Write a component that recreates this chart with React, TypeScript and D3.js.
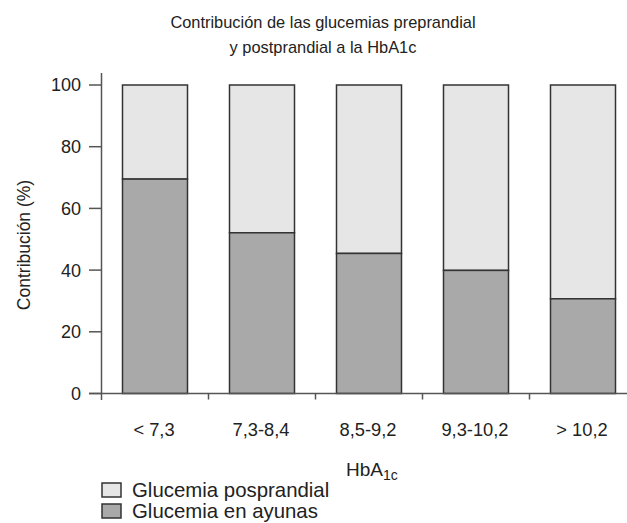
import React from "react";
import * as d3 from "d3";

const categories = ["< 7,3", "7,3-8,4", "8,5-9,2", "9,3-10,2", "> 10,2"];
const ayunas = [69.5, 52.1, 45.4, 39.9, 30.7];
const posprandial = [30.5, 47.9, 54.6, 60.1, 69.3];
const yTicks = [0, 20, 40, 60, 80, 100];
const titleLines = ["Contribución de las glucemias preprandial", "y postprandial a la HbA1c"];
const legendItems = ["Glucemia posprandial", "Glucemia en ayunas"];

const W = 627;
const H = 523;
const FONT = "'Liberation Sans', Arial, Helvetica, sans-serif";
const LIGHT = "#e6e6e6";
const DARK = "#a9a9a9";
const STROKE = "#333";
const AXIS = "#555";
const TEXT = "#222";

export default function App() {
  const x = d3
    .scaleBand<string>()
    .domain(categories)
    .range([101.5, 636.5])
    .paddingInner(0.3925)
    .paddingOuter(0.19625);
  const step = x.step();
  const y = d3.scaleLinear().domain([0, 100]).range([393.5, 85]);
  const y0 = y(0);

  return (
    <svg
      width={W}
      height={H}
      style={{ position: "absolute", left: 0, top: 0, background: "#fff" }}
      fontFamily={FONT}
    >
      <rect width={W} height={H} fill="#fff" />
      {titleLines.map((t, i) => (
        <text key={i} x={323} y={28 + i * 24.5} textAnchor="middle" fontSize={16.4} fill={TEXT}>
          {t}
        </text>
      ))}

      {/* bars */}
      {categories.map((c, i) => {
        const bx = x(c)!;
        const bw = x.bandwidth();
        return (
          <g key={c}>
            <rect
              x={bx}
              y={y(ayunas[i] + posprandial[i])}
              width={bw}
              height={y(ayunas[i]) - y(ayunas[i] + posprandial[i])}
              fill={LIGHT}
              stroke={STROKE}
              strokeWidth={1.5}
            />
            <rect
              x={bx}
              y={y(ayunas[i])}
              width={bw}
              height={y0 - y(ayunas[i])}
              fill={DARK}
              stroke={STROKE}
              strokeWidth={1.5}
            />
          </g>
        );
      })}

      {/* y axis */}
      <line x1={101.5} x2={101.5} y1={73} y2={400} stroke={AXIS} strokeWidth={1.5} />
      {yTicks.map((t) => (
        <g key={t}>
          <line x1={89} x2={101.5} y1={y(t)} y2={y(t)} stroke={AXIS} strokeWidth={1.5} />
          <text x={81} y={y(t)} dy="0.36em" textAnchor="end" fontSize={18} fill={TEXT}>
            {t}
          </text>
        </g>
      ))}

      {/* x axis */}
      <line x1={89} x2={627} y1={y0} y2={y0} stroke={AXIS} strokeWidth={1.5} />
      {categories.map((c, i) => (
        <g key={c}>
          {i > 0 && (
            <line
              x1={x(c)! - (step - x.bandwidth()) / 2}
              x2={x(c)! - (step - x.bandwidth()) / 2}
              y1={y0}
              y2={y0 + 6}
              stroke={AXIS}
              strokeWidth={1.5}
            />
          )}
          <text x={x(c)! + x.bandwidth() / 2 - 1} y={436} textAnchor="middle" fontSize={18.3} fill={TEXT}>
            {c}
          </text>
        </g>
      ))}

      {/* axis titles */}
      <text x={346} y={476} fontSize={19} fill={TEXT}>
        HbA
        <tspan fontSize={14} dy={4}>1c</tspan>
      </text>
      <text
        transform={`translate(30, 245) rotate(-90)`}
        textAnchor="middle"
        fontSize={17.5}
        fill={TEXT}
      >
        Contribución (%)
      </text>

      {/* legend */}
      {legendItems.map((l, i) => (
        <g key={l}>
          <rect
            x={102}
            y={483 + i * 21}
            width={19}
            height={14}
            fill={i === 0 ? LIGHT : DARK}
            stroke={STROKE}
            strokeWidth={1.5}
          />
          <text x={132} y={497 + i * 21} fontSize={20.4} fill={TEXT}>
            {l}
          </text>
        </g>
      ))}
    </svg>
  );
}
